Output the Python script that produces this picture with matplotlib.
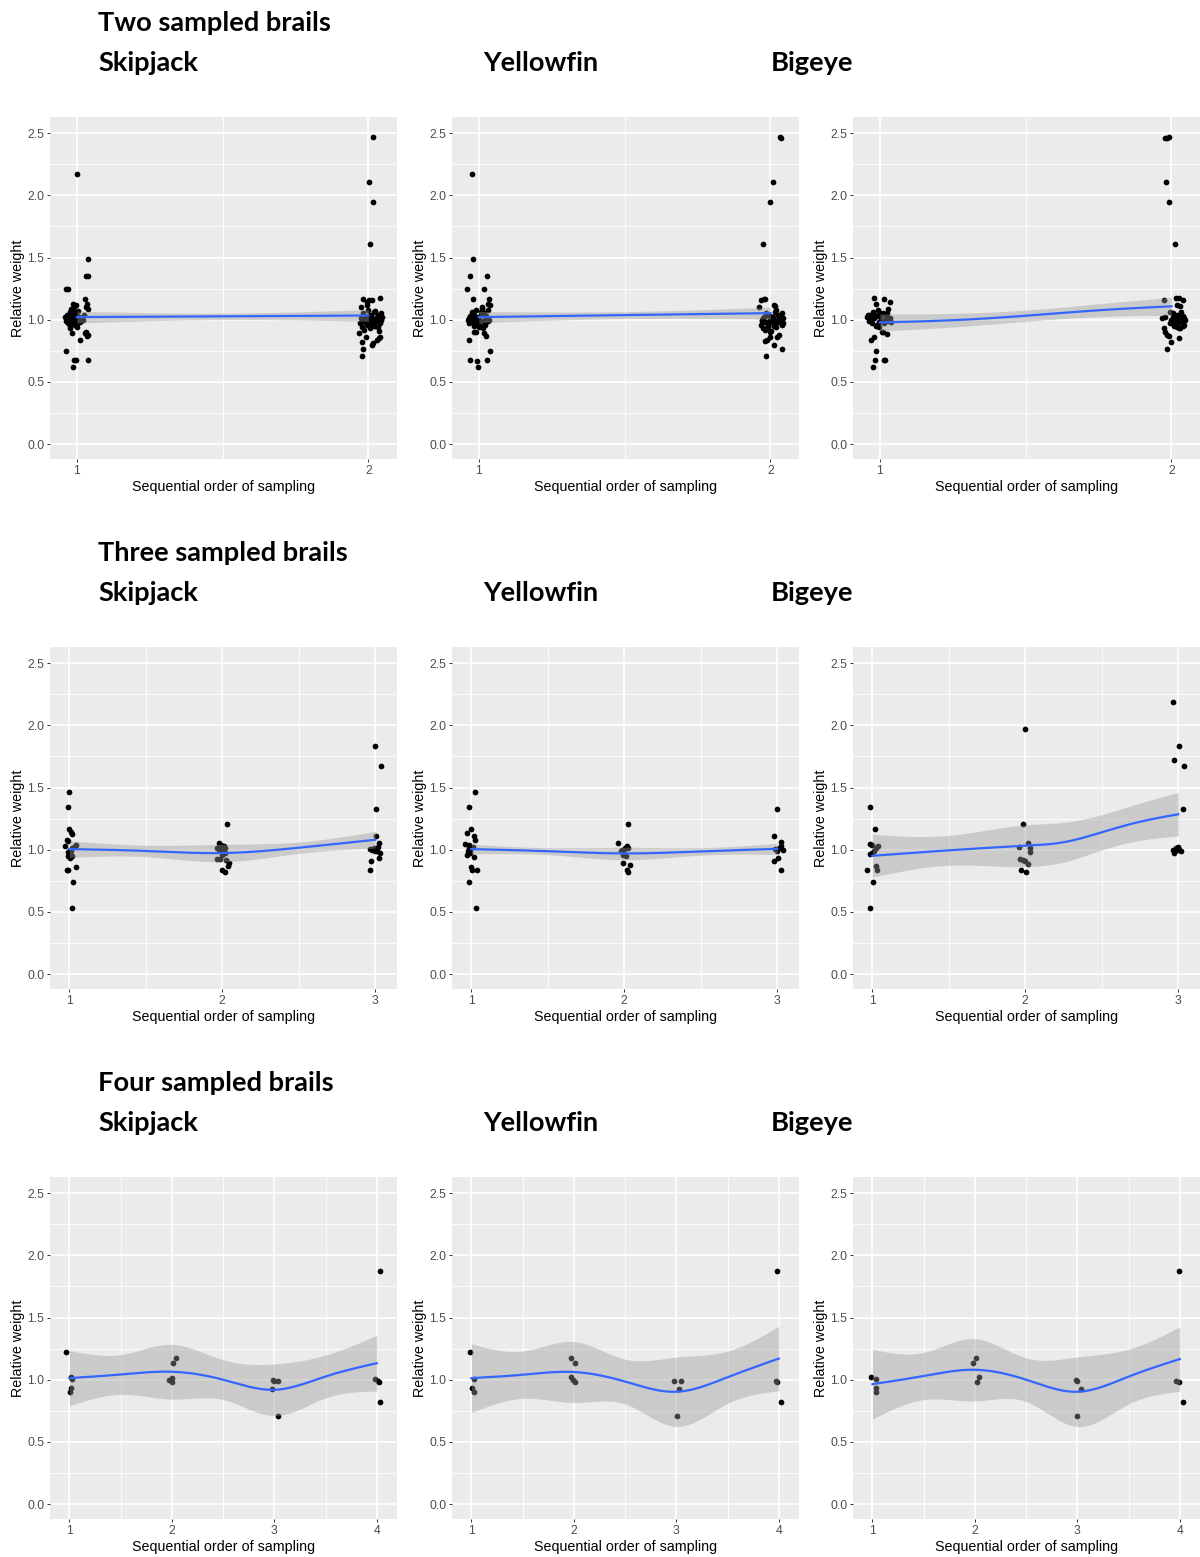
import numpy as np
import matplotlib.pyplot as plt

plt.rcParams['font.family'] = ['Liberation Sans', 'DejaVu Sans']

# ---------------------------------------------------------------------------
# Data: relative weight of individual fish, by sequential brail (jittered x)
# ---------------------------------------------------------------------------
species = ["Skipjack", "Yellowfin", "Bigeye"]
section_titles = ["Two sampled brails", "Three sampled brails", "Four sampled brails"]
n_brails = [2, 3, 4]

# ---- two brails -----------------------------------------------------------
two_skj_x = [1.000, 1.037, 1.032, 1.040, 0.962, 0.970, 1.029, 1.035, 1.037, 1.011,
             0.962, 0.990, 0.996, 1.037, 0.986, 1.029, 1.035, 1.033, 1.040, 0.983,
             0.958, 0.962, 0.966, 0.970, 0.972, 0.975, 0.978, 0.980, 0.982, 0.985,
             0.987, 0.990, 0.992, 0.994, 0.996, 0.998, 1.000, 1.002, 1.004, 0.968,
             0.976, 0.984, 0.988, 0.993, 0.997, 1.001, 0.979, 0.986, 0.973, 0.991,
             1.006, 1.010, 1.020, 1.025, 1.030,
             2.014, 2.003, 2.015, 2.006, 2.040, 1.983, 2.003, 2.011, 1.995, 1.977,
             1.983, 1.977, 1.966, 2.011, 2.017, 2.040, 2.029, 2.035, 1.990,
             1.970, 1.974, 1.978, 1.982, 1.986, 1.990, 1.994, 1.998, 2.002, 2.006,
             2.010, 2.014, 2.018, 2.022, 2.026, 2.030, 2.034, 2.038, 2.042, 2.046,
             1.976, 1.984, 1.992, 2.000, 2.008, 2.016, 2.024, 2.032, 2.040, 2.044,
             1.980, 1.996, 2.012, 2.028, 2.036, 2.020, 2.004, 1.988]
two_skj_y = [2.17, 1.49, 1.35, 1.355, 1.25, 1.245, 1.17, 1.13, 1.09, 0.84,
             0.745, 0.68, 0.68, 0.675, 0.62, 0.89, 0.87, 0.90, 0.875, 0.89,
             1.02, 0.99, 1.04, 0.97, 1.01, 1.06, 0.95, 1.03, 1.00, 1.08,
             0.98, 1.10, 1.02, 0.96, 1.05, 1.12, 1.00, 0.94, 1.07, 1.00,
             0.93, 1.01, 1.13, 0.99, 1.04, 0.97, 1.09, 1.03, 0.99, 1.06,
             1.02, 0.98, 1.00, 1.04, 1.10,
             2.468, 2.109, 1.948, 1.605, 1.171, 1.17, 1.16, 1.155, 1.14, 0.705,
             0.764, 0.82, 0.89, 0.80, 0.81, 0.865, 0.84, 0.85, 0.86,
             0.97, 1.01, 0.94, 1.05, 0.99, 1.02, 0.96, 1.08, 1.00, 0.93,
             1.03, 0.98, 1.06, 0.95, 1.01, 0.99, 1.04, 0.97, 1.00, 1.02,
             1.10, 0.92, 0.99, 1.03, 0.96, 1.00, 1.07, 0.94, 0.98, 1.05,
             1.00, 1.12, 0.97, 1.01, 0.91, 0.95, 1.04, 0.98]

two_yft_x = [0.977, 0.979, 0.971, 1.029, 0.960, 1.017, 0.981, 1.034, 1.031, 0.966,
             0.971, 0.994, 0.997, 1.029, 1.040, 1.017, 1.025, 0.983, 0.989, 1.005,
             0.962, 0.966, 0.970, 0.974, 0.978, 0.982, 0.986, 0.990, 0.994, 0.998,
             1.002, 1.006, 1.010, 1.014, 1.018, 1.022, 1.026, 1.030, 1.034, 1.038,
             0.968, 0.976, 0.984, 0.992, 1.000, 1.008, 1.016, 1.024, 1.032, 0.980,
             0.996, 1.012, 1.028,
             2.034, 2.037, 2.009, 1.997, 1.976, 1.966, 1.977, 1.981, 1.962, 2.011,
             2.017, 1.984, 2.040, 2.011, 1.989, 1.983, 2.023, 2.000, 2.028,
             1.966, 1.970, 1.974, 1.978, 1.982, 1.986, 1.990, 1.994, 1.998, 2.002,
             2.006, 2.010, 2.014, 2.018, 2.022, 2.026, 2.030, 2.034, 2.038, 2.042,
             1.972, 1.980, 1.988, 1.996, 2.004, 2.012, 2.020, 2.028, 2.036, 2.044,
             1.976, 1.992, 2.008, 2.024, 2.040, 2.000]
two_yft_y = [2.17, 1.49, 1.35, 1.35, 1.25, 1.25, 1.166, 1.17, 1.13, 0.84,
             0.68, 0.67, 0.62, 0.68, 0.745, 0.89, 0.87, 0.90, 0.90, 0.95,
             1.00, 0.97, 1.03, 0.99, 1.06, 0.95, 1.01, 1.08, 0.98, 1.02,
             0.94, 1.04, 1.10, 0.99, 1.05, 0.96, 1.02, 1.08, 1.00, 1.12,
             1.01, 0.98, 1.04, 0.97, 1.00, 1.06, 0.93, 1.03, 0.99, 1.02,
             0.96, 1.09, 1.01,
             2.468, 2.46, 2.109, 1.948, 1.605, 1.16, 1.17, 1.165, 1.10, 1.12,
             1.11, 0.705, 0.764, 0.80, 0.84, 0.825, 0.865, 0.86, 0.88,
             0.96, 1.00, 0.93, 1.02, 0.98, 1.05, 0.95, 0.99, 1.03, 0.91,
             1.01, 0.97, 1.06, 0.94, 1.00, 1.04, 0.98, 1.02, 0.96, 1.01,
             0.99, 0.92, 1.04, 0.97, 1.00, 0.95, 1.08, 0.99, 1.03, 0.97,
             1.01, 0.94, 1.02, 0.98, 1.05, 0.90]

two_bet_x = [0.979, 1.014, 0.986, 1.034, 1.029, 1.025, 0.995, 1.000, 0.960, 0.971,
             0.966, 0.971, 0.979, 0.986, 0.983, 1.014, 1.017, 0.975, 1.006, 1.011,
             1.025, 0.998,
             0.956, 0.962, 0.968, 0.974, 0.980, 0.986, 0.992, 0.998, 1.004, 1.010,
             1.016, 1.022, 1.028, 1.034, 0.965, 0.977, 0.989, 1.001, 1.013, 1.025,
             1.037, 0.983,
             1.978, 1.986, 1.992, 1.982, 1.992, 2.011, 1.976, 2.014, 2.025, 2.040,
             1.995, 1.968, 1.979, 1.976, 1.979, 1.984, 1.990, 1.984, 1.999, 2.025,
             2.020, 2.030,
             2.002, 2.006, 2.010, 2.014, 2.018, 2.022, 2.026, 2.030, 2.034, 2.038,
             2.042, 2.046, 2.004, 2.012, 2.020, 2.028, 2.036, 2.044, 2.008, 2.016,
             2.024, 2.032, 2.040, 2.000, 1.996, 2.018, 2.026, 2.034]
two_bet_y = [1.174, 1.166, 1.125, 1.139, 1.088, 1.053, 1.08, 1.053, 1.04, 1.03,
             1.013, 0.839, 0.865, 0.745, 0.678, 0.678, 0.673, 0.619, 0.90, 0.905,
             0.887, 0.94,
             1.02, 0.99, 1.04, 0.97, 1.01, 0.95, 1.03, 0.98, 1.00, 1.05,
             0.97, 1.02, 0.99, 1.01, 1.00, 1.06, 0.96, 1.03, 0.99, 1.02,
             0.98, 1.04,
             2.46, 2.465, 2.468, 2.109, 1.948, 1.605, 1.155, 1.174, 1.174, 1.155,
             1.06, 1.013, 1.02, 0.932, 0.905, 0.879, 0.866, 0.764, 0.82, 0.852,
             1.12, 1.11,
             0.98, 1.02, 0.95, 1.00, 1.04, 0.97, 1.01, 0.93, 0.99, 1.03,
             0.96, 1.00, 1.05, 0.97, 0.94, 1.02, 0.99, 1.01, 0.96, 1.03,
             0.98, 1.06, 0.95, 1.00, 0.97, 1.01, 0.93, 0.99]

# ---- three brails ---------------------------------------------------------
three_skj_x = [1.000, 0.993, 1.000, 1.011, 1.015, 0.983, 0.993, 0.972, 0.983, 0.993,
               1.041, 1.022, 1.015, 0.993, 1.004, 1.015, 1.037, 1.044, 1.004, 1.011,
               0.990, 1.020,
               2.031, 1.980, 1.993, 2.009, 2.020, 1.965, 1.987, 2.026, 2.041, 1.998,
               2.020, 2.037, 1.963, 1.978, 2.000, 2.015, 1.995,
               3.000, 3.037, 3.007, 3.004, 3.022, 2.963, 2.978, 2.989, 3.011, 3.028,
               3.022, 2.974, 2.963, 3.000, 3.015]
three_skj_y = [1.468, 1.342, 1.166, 1.139, 1.128, 1.08, 1.072, 1.026, 0.839, 0.839,
               0.857, 0.737, 0.53, 0.95, 0.93, 0.946, 1.026, 1.04, 1.00, 0.99,
               0.98, 1.01,
               1.206, 1.053, 1.04, 1.026, 1.013, 0.924, 0.924, 0.919, 0.892, 0.839,
               0.82, 0.873, 1.01, 1.005, 0.99, 0.97, 0.96,
               1.83, 1.675, 1.326, 1.107, 1.053, 1.005, 1.00, 1.013, 0.986, 0.973,
               0.932, 0.911, 0.839, 0.99, 1.02]

three_yft_x = [1.026, 0.982, 1.000, 0.971, 1.022, 1.015, 0.960, 0.982, 0.971, 0.993,
               1.015, 1.000, 1.004, 1.037, 0.982, 1.033, 0.993, 0.987, 1.008, 0.976,
               2.022, 1.960, 2.015, 2.026, 1.987, 2.000, 2.009, 1.993, 2.037, 2.020,
               2.024, 1.980, 2.004, 1.990,
               3.000, 2.978, 3.022, 3.026, 3.037, 2.982, 3.000, 3.004, 2.978, 3.026,
               3.010]
three_yft_y = [1.468, 1.342, 1.166, 1.133, 1.08, 1.107, 1.048, 1.04, 0.96, 0.973,
               0.938, 0.857, 0.839, 0.833, 0.737, 0.53, 1.00, 1.013, 1.02, 0.99,
               1.206, 1.053, 1.032, 1.013, 1.00, 0.973, 0.946, 0.892, 0.876, 0.839,
               0.817, 0.99, 1.01, 0.96,
               1.326, 1.107, 1.058, 1.026, 1.00, 1.005, 0.986, 0.932, 0.911, 0.839,
               1.01]

three_bet_x = [0.985, 1.018, 0.985, 0.996, 1.035, 1.022, 0.985, 0.996, 1.013, 0.963,
               1.022, 1.029, 1.007, 0.985,
               1.996, 1.985, 1.960, 2.018, 2.029, 2.033, 1.963, 1.985, 2.000, 2.018,
               1.969, 2.004,
               2.963, 3.007, 2.974, 3.040, 3.033, 2.963, 2.969, 2.985, 2.996, 3.007,
               3.018, 2.978, 3.000]
three_bet_y = [1.342, 1.166, 1.048, 1.04, 1.026, 1.013, 0.967, 0.973, 0.986, 0.839,
               0.866, 0.839, 0.737, 0.53,
               1.969, 1.206, 1.02, 1.053, 1.013, 0.978, 0.924, 0.919, 0.911, 0.887,
               0.839, 0.817,
               2.186, 1.83, 1.723, 1.675, 1.326, 1.00, 0.973, 1.013, 1.02, 1.00,
               0.986, 0.99, 1.01]

# ---- four brails ----------------------------------------------------------
four_skj_x = [0.964, 1.013, 1.023, 1.013, 1.007,
              2.036, 2.013, 1.971, 1.997, 2.003,
              2.984, 2.997, 3.039, 2.974, 3.039,
              4.033, 3.984, 4.007, 4.026, 4.033]
four_skj_y = [1.219, 1.018, 1.005, 0.932, 0.898,
              1.174, 1.133, 0.994, 1.013, 0.981,
              0.994, 0.986, 0.986, 0.924, 0.705,
              1.878, 1.005, 0.986, 0.978, 0.817]

four_yft_x = [0.990, 1.006, 1.022, 1.029,
              1.971, 2.006, 1.968, 1.990, 2.013,
              2.974, 3.042, 3.026, 3.006,
              3.978, 3.971, 3.978, 4.026]
four_yft_y = [1.219, 0.932, 0.898, 1.008,
              1.174, 1.133, 1.021, 0.994, 0.981,
              0.986, 0.986, 0.924, 0.705,
              1.878, 0.986, 0.978, 0.817]

four_bet_x = [0.984, 1.039, 1.032, 1.032,
              2.010, 1.977, 2.042, 2.016,
              2.990, 2.997, 3.032, 2.994,
              3.990, 3.961, 3.994, 4.032]
four_bet_y = [1.018, 1.008, 0.932, 0.898,
              1.174, 1.133, 1.021, 0.981,
              0.994, 0.986, 0.924, 0.705,
              1.878, 0.986, 0.978, 0.817]

# ---- loess fits: fitted value and half-width of the 95% band at knots ------
two_fit_at = [1.0, 1.5, 2.0]
two_skj_fit = [1.021, 1.027, 1.034]
two_skj_band = [0.047, 0.026, 0.047]
two_yft_fit = [1.021, 1.037, 1.053]
two_yft_band = [0.045, 0.028, 0.048]
two_bet_fit_at = [1.0, 1.25, 1.5, 1.75, 2.0]
two_bet_fit = [0.978, 0.996, 1.032, 1.076, 1.108]
two_bet_band = [0.068, 0.055, 0.045, 0.052, 0.072]

three_fit_at = [1.0, 1.5, 2.0, 2.5, 3.0]
three_skj_fit = [1.005, 0.990, 0.973, 1.016, 1.080]
three_skj_band = [0.067, 0.046, 0.070, 0.046, 0.067]
three_yft_fit = [1.005, 0.988, 0.970, 0.986, 1.007]
three_yft_band = [0.040, 0.028, 0.050, 0.030, 0.045]
three_bet_fit_at = [1.0, 1.5, 2.0, 2.25, 2.5, 2.75, 3.0]
three_bet_fit = [0.951, 0.995, 1.032, 1.060, 1.140, 1.225, 1.285]
three_bet_band = [0.172, 0.120, 0.168, 0.160, 0.142, 0.150, 0.175]

four_fit_at = [1.0, 1.5, 2.0, 2.5, 3.0, 3.5, 4.0]
four_skj_fit = [1.013, 1.042, 1.064, 1.000, 0.919, 1.026, 1.133]
four_skj_band = [0.222, 0.160, 0.220, 0.160, 0.208, 0.172, 0.225]
four_yft_fit = [1.013, 1.040, 1.062, 0.985, 0.903, 1.020, 1.170]
four_yft_band = [0.276, 0.190, 0.245, 0.180, 0.279, 0.210, 0.260]
four_bet_fit = [0.964, 1.030, 1.080, 1.000, 0.903, 1.025, 1.166]
four_bet_band = [0.280, 0.190, 0.250, 0.175, 0.280, 0.220, 0.260]

panels = [
    [(two_skj_x, two_skj_y, two_fit_at, two_skj_fit, two_skj_band),
     (two_yft_x, two_yft_y, two_fit_at, two_yft_fit, two_yft_band),
     (two_bet_x, two_bet_y, two_bet_fit_at, two_bet_fit, two_bet_band)],
    [(three_skj_x, three_skj_y, three_fit_at, three_skj_fit, three_skj_band),
     (three_yft_x, three_yft_y, three_fit_at, three_yft_fit, three_yft_band),
     (three_bet_x, three_bet_y, three_bet_fit_at, three_bet_fit, three_bet_band)],
    [(four_skj_x, four_skj_y, four_fit_at, four_skj_fit, four_skj_band),
     (four_yft_x, four_yft_y, four_fit_at, four_yft_fit, four_yft_band),
     (four_bet_x, four_bet_y, four_fit_at, four_bet_fit, four_bet_band)],
]


def natural_spline(xk, yk, xs):
    """Natural cubic spline through the knots, evaluated at xs."""
    xk = np.asarray(xk, float)
    yk = np.asarray(yk, float)
    n = len(xk)
    if n < 3:
        return np.interp(xs, xk, yk)
    h = np.diff(xk)
    A = np.zeros((n, n))
    r = np.zeros(n)
    A[0, 0] = A[-1, -1] = 1.0
    for i in range(1, n - 1):
        A[i, i - 1] = h[i - 1]
        A[i, i] = 2 * (h[i - 1] + h[i])
        A[i, i + 1] = h[i]
        r[i] = 3 * ((yk[i + 1] - yk[i]) / h[i] - (yk[i] - yk[i - 1]) / h[i - 1])
    c = np.linalg.solve(A, r)
    b = (yk[1:] - yk[:-1]) / h - h * (2 * c[:-1] + c[1:]) / 3
    d = (c[1:] - c[:-1]) / (3 * h)
    idx = np.clip(np.searchsorted(xk, xs) - 1, 0, n - 2)
    t = xs - xk[idx]
    return yk[idx] + b[idx] * t + c[idx] * t ** 2 + d[idx] * t ** 3


# ---------------------------------------------------------------------------
# Layout (pixel geometry of the page)
# ---------------------------------------------------------------------------
W, H = 1200, 1557
fig = plt.figure(figsize=(W / 100, H / 100), dpi=100)

col_left = [50, 452, 853]
panel_w = 347
row_top = [117, 647, 1177]
panel_h = 342
row_shift = [0, 530, 1060]
species_x = [98, 483, 771]
xlims = {2: (0.908, 2.098), 3: (0.874, 3.142), 4: (0.810, 4.197)}
ylim = (-0.12, 2.63)

heading_font = dict(family=['Lato', 'DejaVu Sans'], fontweight='bold',
                    fontsize=19.6, color='black')

BG = '#EBEBEB'
TICK_TXT = '#4D4D4D'

for r in range(3):
    nb = n_brails[r]
    fig.text(98 / W, 1 - (31 + row_shift[r]) / H, section_titles[r],
             ha='left', va='baseline', **heading_font)
    for c in range(3):
        fig.text(species_x[c] / W, 1 - (71 + row_shift[r]) / H, species[c],
                 ha='left', va='baseline', **heading_font)

        x, y, kx, ky, kb = panels[r][c]
        left = col_left[c]
        top = row_top[r]
        ax = fig.add_axes([left / W, 1 - (top + panel_h) / H, panel_w / W, panel_h / H])
        ax.set_facecolor(BG)
        for s in ax.spines.values():
            s.set_visible(False)
        ax.set_xlim(*xlims[nb])
        ax.set_ylim(*ylim)

        # grid
        for gx in np.arange(1.5, nb, 1.0):
            ax.axvline(gx, color='white', lw=0.6, zorder=0)
        for gy in np.arange(0.25, 2.5, 0.5):
            ax.axhline(gy, color='white', lw=0.6, zorder=0)
        for gx in range(1, nb + 1):
            ax.axvline(gx, color='white', lw=1.2, zorder=0.5)
        for gy in np.arange(0, 2.51, 0.5):
            ax.axhline(gy, color='white', lw=1.2, zorder=0.5)

        # points
        ax.scatter(x, y, s=17, color='black', linewidths=0, zorder=2)

        # smoother with confidence band
        xs = np.linspace(kx[0], kx[-1], 200)
        fit = natural_spline(kx, ky, xs)
        half = natural_spline(kx, kb, xs)
        ax.fill_between(xs, fit - half, fit + half, color='#999999', alpha=0.4,
                        linewidth=0, zorder=3)
        ax.plot(xs, fit, color='#3366FF', lw=1.6, zorder=4)

        # ticks
        ax.set_xticks(range(1, nb + 1))
        ax.set_xticklabels([str(i) for i in range(1, nb + 1)])
        ax.set_yticks([0, 0.5, 1.0, 1.5, 2.0, 2.5])
        ax.set_yticklabels(['0.0', '0.5', '1.0', '1.5', '2.0', '2.5'])
        ax.tick_params(axis='both', length=2.4, width=0.7, color='#333333',
                       labelsize=8.7, labelcolor=TICK_TXT, pad=1.6)

        # axis titles
        fig.text((left + panel_w / 2) / W, 1 - (top + panel_h + 28) / H,
                 'Sequential order of sampling', ha='center', va='center',
                 fontsize=10.3, color='black')
        fig.text((left - 32) / W, 1 - (top + panel_h / 2) / H, 'Relative weight',
                 ha='center', va='center', rotation=90, fontsize=10.3, color='black')

fig.savefig('out.png', dpi=100, facecolor='white')
